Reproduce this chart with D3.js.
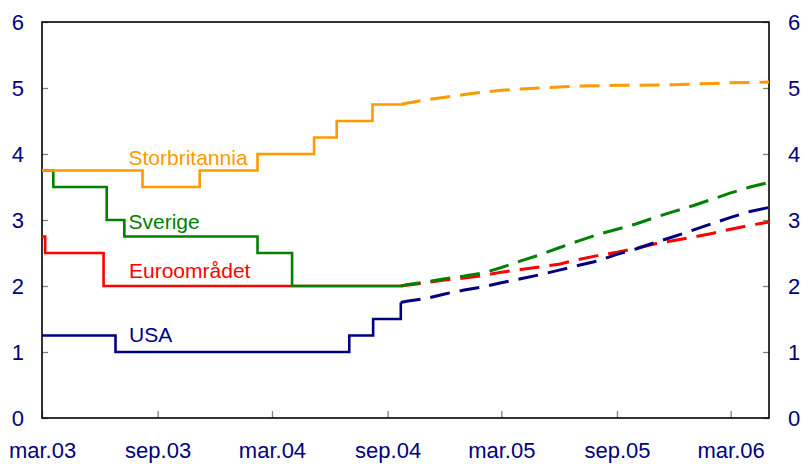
<!DOCTYPE html>
<html>
<head>
	<meta charset="utf-8">
	<title>Styrräntor</title>
	<script type="text/javascript" src="https://cdn.jsdelivr.net/npm/d3@7"></script>
	<style>
		body {
			margin: 0;
			background: #fff;
			font-family: Arial, "Liberation Sans", Helvetica, sans-serif;
		}
	</style>
</head>

<body>

	<div id="chart"></div>

	<script>

		// data: actual policy rates (change dates) and implied forward rates

		const seDates = ["2003-03-01", "2003-03-19", "2003-06-12", "2003-07-10", "2004-02-07", "2004-04-02", "2004-09-22"];
		const seRates = [3.75, 3.50, 3.00, 2.75, 2.50, 2.00, 2.00];

		const ukDates = ["2003-03-01", "2003-08-08", "2003-11-07", "2004-02-07", "2004-05-07", "2004-06-12", "2004-08-08", "2004-09-22"];
		const ukRates = [3.75, 3.50, 3.75, 4.00, 4.25, 4.50, 4.75, 4.75];

		const euDates = ["2003-03-01", "2003-03-06", "2003-06-07", "2004-09-22"];
		const euRates = [2.75, 2.50, 2.00, 2.00];

		const usDates = ["2003-03-01", "2003-06-26", "2004-07-02", "2004-08-09", "2004-09-22"];
		const usRates = [1.25, 1.00, 1.25, 1.50, 1.75];

		const fwdDates = ["2004-09-22", "2004-10-01", "2004-11-01", "2004-12-01", "2005-01-01", "2005-02-01",
			"2005-03-01", "2005-04-01", "2005-05-01", "2005-06-01", "2005-07-01", "2005-08-01", "2005-09-01",
			"2005-10-01", "2005-11-01", "2005-12-01", "2006-01-01", "2006-02-01", "2006-03-01", "2006-04-01", "2006-05-01"];
		const ukFwd = [4.75, 4.77, 4.82, 4.86, 4.90, 4.94, 4.965, 4.985, 5.00, 5.015, 5.03, 5.035, 5.04, 5.04, 5.045, 5.05, 5.06, 5.07, 5.08, 5.085, 5.09];
		const seFwd = [2.00, 2.02, 2.06, 2.11, 2.15, 2.20, 2.28, 2.38, 2.47, 2.58, 2.68, 2.78, 2.86, 2.94, 3.04, 3.13, 3.22, 3.32, 3.41, 3.50, 3.57];
		const euFwd = [2.00, 2.01, 2.05, 2.09, 2.12, 2.16, 2.21, 2.25, 2.29, 2.33, 2.40, 2.46, 2.51, 2.57, 2.64, 2.69, 2.74, 2.80, 2.86, 2.92, 2.97];
		const usFwd = [1.75, 1.77, 1.81, 1.88, 1.94, 1.99, 2.05, 2.11, 2.17, 2.24, 2.31, 2.38, 2.48, 2.56, 2.66, 2.75, 2.85, 2.95, 3.04, 3.13, 3.19];

		const xTicks = ["2003-03-01", "2003-09-01", "2004-03-01", "2004-09-01", "2005-03-01", "2005-09-01", "2006-03-01"];
		const yTicks = [0, 1, 2, 3, 4, 5, 6];
		const monthNames = ["jan", "feb", "mar", "apr", "maj", "jun", "jul", "aug", "sep", "okt", "nov", "dec"];

		// layout

		const width = 803;
		const height = 464;
		const margin = { top: 22, right: 34, bottom: 46, left: 42 };
		const navy = "#000080";

		const parse = d3.utcParse("%Y-%m-%d");

		const series = [
			{ name: "Euroområdet", color: "#ff0000", dates: euDates, rates: euRates, fwd: euFwd, label: [129, 277.5] },
			{ name: "USA", color: navy, dates: usDates, rates: usRates, fwd: usFwd, label: [129, 341.5] },
			{ name: "Sverige", color: "#008000", dates: seDates, rates: seRates, fwd: seFwd, label: [128.5, 228.5] },
			{ name: "Storbritannia", color: "#ff9900", dates: ukDates, rates: ukRates, fwd: ukFwd, label: [128.5, 165] },
		];

		const x = d3.scaleUtc()
			.domain([parse("2003-03-01"), parse("2006-05-01")])
			.range([margin.left, width - margin.right]);

		const y = d3.scaleLinear()
			.domain([0, 6])
			.range([height - margin.bottom, margin.top]);

		const svg = d3.select("#chart")
			.append("svg")
			.attr("width", width)
			.attr("height", height)
			.attr("font-family", "Arial, 'Liberation Sans', sans-serif");

		const fmt = d => monthNames[d.getUTCMonth()] + "." + d3.utcFormat("%y")(d);

		// axes (ticks point inwards)

		const styleAxis = g => {
			g.select(".domain").remove();
			g.selectAll(".tick line").attr("stroke", "#808080").attr("stroke-width", 1.3);
			g.selectAll(".tick text").attr("fill", navy).attr("font-size", 22);
		};

		svg.append("g")
			.attr("transform", `translate(${margin.left},0)`)
			.call(d3.axisLeft(y).tickValues(yTicks).tickSize(-6).tickPadding(18).tickFormat(d3.format("d")))
			.call(styleAxis);

		svg.append("g")
			.attr("transform", `translate(${width - margin.right},0)`)
			.call(d3.axisRight(y).tickValues(yTicks).tickSize(-6).tickPadding(19).tickFormat(d3.format("d")))
			.call(styleAxis);

		svg.append("g")
			.attr("transform", `translate(0,${height - margin.bottom})`)
			.call(d3.axisBottom(x).tickValues(xTicks.map(parse)).tickSize(-7).tickPadding(24).tickFormat(fmt))
			.call(styleAxis);

		// frame

		svg.append("rect")
			.attr("x", margin.left)
			.attr("y", margin.top)
			.attr("width", width - margin.left - margin.right)
			.attr("height", height - margin.top - margin.bottom)
			.attr("fill", "none")
			.attr("stroke", "#000")
			.attr("stroke-width", 1.6);

		// lines

		const step = d3.line()
			.x(d => x(d[0]))
			.y(d => y(d[1]))
			.curve(d3.curveStepAfter);

		const smooth = d3.line()
			.x(d => x(d[0]))
			.y(d => y(d[1]));

		series.forEach(s => {
			svg.append("path")
				.datum(s.dates.map((d, i) => [parse(d), s.rates[i]]))
				.attr("fill", "none")
				.attr("stroke", s.color)
				.attr("stroke-width", 2.6)
				.attr("d", step);
		});

		series.forEach(s => {
			svg.append("path")
				.datum(fwdDates.map((d, i) => [parse(d), s.fwd[i]]))
				.attr("fill", "none")
				.attr("stroke", s.color)
				.attr("stroke-width", 3)
				.attr("stroke-dasharray", "20,10")
				.attr("d", smooth);
		});

		// series labels

		svg.selectAll(".label")
			.data(series)
			.join("text")
			.attr("class", "label")
			.attr("x", d => d.label[0])
			.attr("y", d => d.label[1])
			.attr("fill", d => d.color)
			.attr("font-size", 21)
			.text(d => d.name);

	</script>

</body>

</html>
